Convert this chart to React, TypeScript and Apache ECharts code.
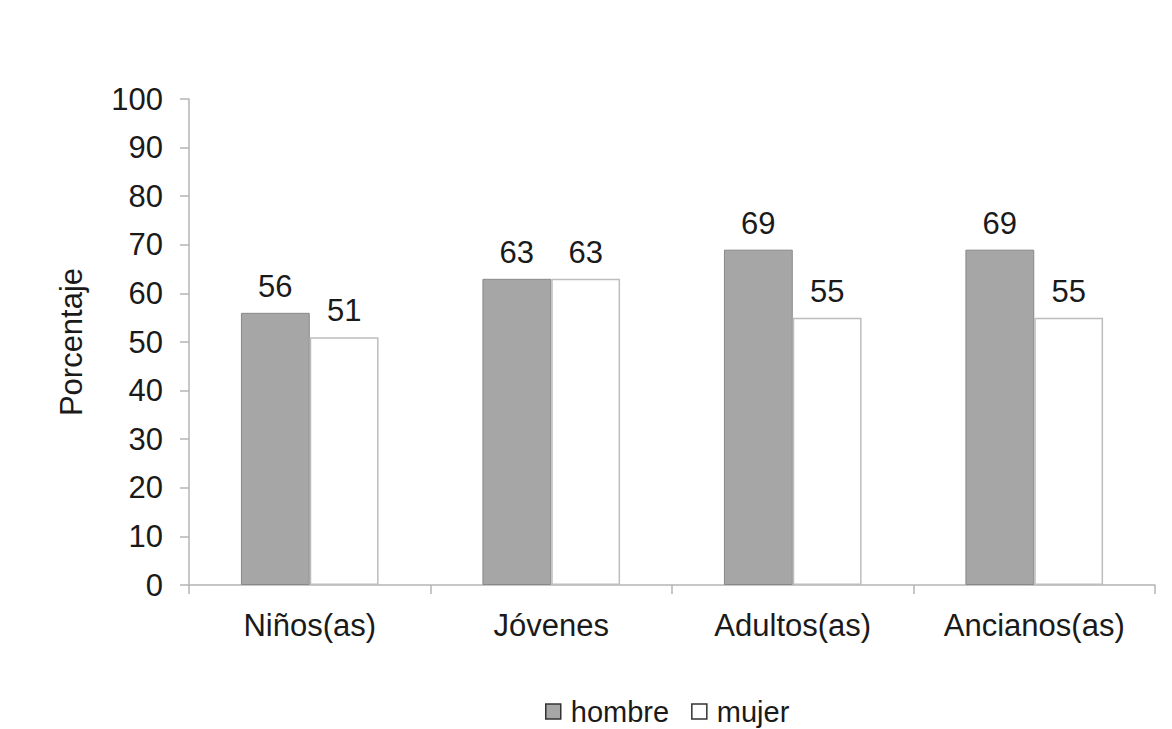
import React, { useEffect, useRef } from "react";
import * as echarts from "echarts";

const categories = ["Niños(as)", "Jóvenes", "Adultos(as)", "Ancianos(as)"];
const hombre = [56, 63, 69, 69];
const mujer = [51, 63, 55, 55];
const seriesNames = ["hombre", "mujer"];
const yAxisName = "Porcentaje";

const FONT = "'Liberation Sans', Arial, sans-serif";
const TXT = "#1a1a1a";
const AXIS = "#b4b4b4";

export default function App() {
  const ref = useRef<HTMLDivElement>(null);
  useEffect(() => {
    if (!ref.current) return;
    const chart = echarts.init(ref.current, undefined, { renderer: "svg" });
    const label = {
      show: true,
      position: "top",
      distance: 11,
      color: TXT,
      fontSize: 31,
      fontFamily: FONT,
    };
    chart.setOption({
      animation: false,
      backgroundColor: "#ffffff",
      grid: { left: 189, right: 17, top: 99, bottom: 144, containLabel: false },
      legend: {
        left: 540,
        top: 692,
        itemWidth: 15,
        itemHeight: 15,
        itemGap: 22,
        icon: "rect",
        textStyle: { color: TXT, fontSize: 29, fontFamily: FONT, padding: [0, 0, 0, 5] },
        data: [
          { name: seriesNames[0], itemStyle: { color: "#a6a6a6", borderColor: "#333333", borderWidth: 1.5 } },
          { name: seriesNames[1], itemStyle: { color: "#ffffff", borderColor: "#333333", borderWidth: 1.5 } },
        ],
      },
      xAxis: {
        type: "category",
        data: categories,
        axisLine: { lineStyle: { color: AXIS, width: 1.5 } },
        axisTick: { show: true, length: 9, lineStyle: { color: AXIS, width: 1.5 } },
        axisLabel: { color: TXT, fontSize: 31, fontFamily: FONT, margin: 25 },
      },
      yAxis: {
        type: "value",
        min: 0,
        max: 100,
        interval: 10,
        name: yAxisName,
        nameLocation: "middle",
        nameRotate: 90,
        nameGap: 102,
        nameTextStyle: { color: TXT, fontSize: 31, fontFamily: FONT },
        axisLine: { show: true, lineStyle: { color: AXIS, width: 1.5 } },
        axisTick: { show: true, length: 9, lineStyle: { color: AXIS, width: 1.5 } },
        axisLabel: { color: TXT, fontSize: 31, fontFamily: FONT, margin: 26 },
        splitLine: { show: false },
      },
      series: [
        {
          name: seriesNames[0],
          type: "bar",
          data: hombre,
          barGap: "0%",
          barCategoryGap: "43%",
          itemStyle: { color: "#a6a6a6", borderColor: "#888888", borderWidth: 1 },
          label,
        },
        {
          name: seriesNames[1],
          type: "bar",
          data: mujer,
          itemStyle: { color: "#ffffff", borderColor: "#bdbdbd", borderWidth: 1.5 },
          label,
        },
      ],
    });
    return () => chart.dispose();
  }, []);
  return (
    <div
      ref={ref}
      style={{ position: "fixed", left: 0, top: 0, width: 1172, height: 729 }}
    />
  );
}
